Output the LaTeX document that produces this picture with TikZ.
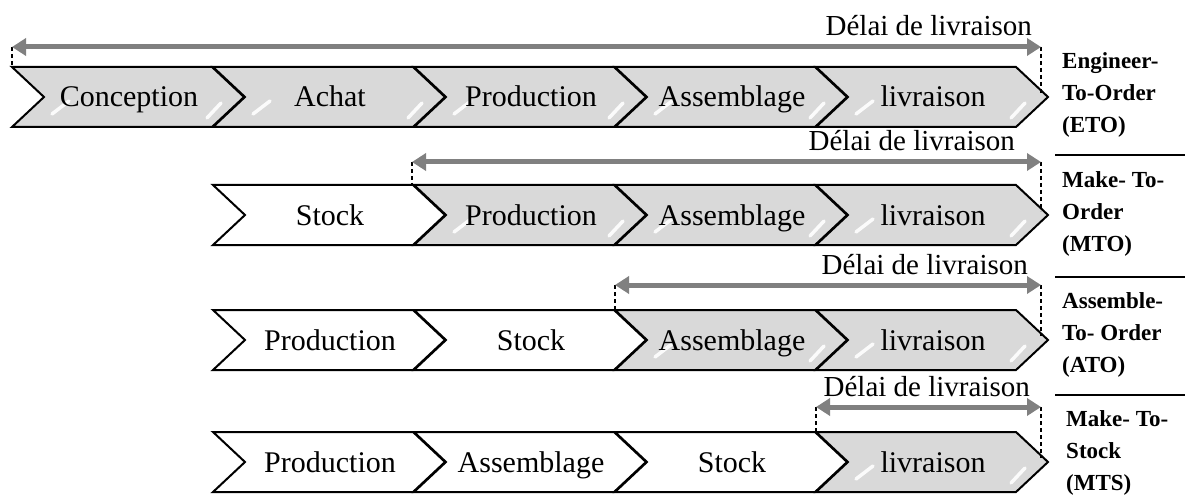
\documentclass[tikz,border=0pt]{standalone}
\usepackage{fontspec}
\setmainfont{Liberation Serif}
\usetikzlibrary{arrows.meta}
\definecolor{chevgris}{RGB}{217,217,217}
\definecolor{flechegris}{RGB}{128,128,128}
\tikzset{
  etape/.style={draw=black, line width=2pt, line join=miter},
  texte/.style={font=\fontsize{30}{32}\selectfont, anchor=base, inner sep=0pt},
  delai/.style={font=\fontsize{29}{31}\selectfont, anchor=base east, inner sep=0pt},
  fleche/.style={draw=flechegris, line width=5pt, <->, >={Triangle[length=14pt,width=17pt]}},
  pointille/.style={dash pattern=on 4pt off 3pt, line width=1.5pt},
  modele/.style={font=\fontsize{23}{32}\selectfont\bfseries, align=left, anchor=west, inner sep=0pt},
  reflet/.style={white, line width=3.5pt, line cap=round, opacity=0.9},
  separation/.style={line width=1.2pt}
}
% #1 nom, #2 x, #3 y haut, #4 couleur, #5 texte
\newcommand{\etape}[5]{%
  \draw[etape, fill=#4] (#2,#3) -- ++(200,0) -- ++(32,30) -- ++(-32,30) -- ++(-200,0) -- ++(32,-30) -- cycle;
  \draw[reflet] (#2+40,#3+47) -- (#2+57,#3+34);
  \draw[reflet] (#2+195,#3+51) -- (#2+209,#3+36);
  \node[texte] (#1) at (#2+117,#3+40) {#5};
}
\begin{document}
\begin{tikzpicture}[x=1pt,y=-1pt]
  \useasboundingbox (0,0) rectangle (1185,497);
  % ETO
  \foreach \c/\t in {0/Conception,1/Achat,2/Production,3/Assemblage,4/livraison}
    {\etape{eto\c}{12+201*\c}{67}{chevgris}{\t}}
  % MTO
  \foreach \c/\t/\s in {1/Stock/white,2/Production/chevgris,3/Assemblage/chevgris,4/livraison/chevgris}
    {\etape{mto\c}{12+201*\c}{185}{\s}{\t}}
  % ATO
  \foreach \c/\t/\s in {1/Production/white,2/Stock/white,3/Assemblage/chevgris,4/livraison/chevgris}
    {\etape{ato\c}{12+201*\c}{310}{\s}{\t}}
  % MTS
  \foreach \c/\t/\s in {1/Production/white,2/Assemblage/white,3/Stock/white,4/livraison/chevgris}
    {\etape{mts\c}{12+201*\c}{432}{\s}{\t}}

  % delais
  \coordinate (a1l) at (12,47);  \coordinate (a1r) at (1041,47);
  \coordinate (a2l) at (412,162); \coordinate (a2r) at (1041,162);
  \coordinate (a3l) at (615,285); \coordinate (a3r) at (1041,285);
  \coordinate (a4l) at (816,407); \coordinate (a4r) at (1041,407);
  \draw[pointille] (a1l) -- ++(0,20);  \draw[pointille] (a1r) -- ++(0,46);
  \draw[pointille] (a2l) -- ++(0,23);  \draw[pointille] (a2r) -- ++(0,49);
  \draw[pointille] (a3l) -- ++(0,25);  \draw[pointille] (a3r) -- ++(0,51);
  \draw[pointille] (a4l) -- ++(0,25);  \draw[pointille] (a4r) -- ++(0,51);
  \draw[fleche] (a1l) -- (a1r);
  \draw[fleche] (a2l) -- (a2r);
  \draw[fleche] (a3l) -- (a3r);
  \draw[fleche] (a4l) -- (a4r);
  \node[delai] (d1) at (1032,36) {Délai de livraison};
  \node[delai] (d2) at (1015,151) {Délai de livraison};
  \node[delai] (d3) at (1028,274) {Délai de livraison};
  \node[delai] (d4) at (1030,396) {Délai de livraison};

  % strategies
  \node[modele] (eto) at (1062,95) {Engineer-\\To-Order\\(ETO)};
  \node[modele] (mto) at (1062,214) {Make- To-\\Order\\(MTO)};
  \node[modele] (ato) at (1062,335) {Assemble-\\To- Order\\(ATO)};
  \node[modele] (mts) at (1066,453) {Make- To-\\Stock\\(MTS)};
  \draw[separation] (1055,155) -- (1185,155);
  \draw[separation] (1055,277) -- (1185,277);
  \draw[separation] (1055,395) -- (1185,395);
\end{tikzpicture}
\end{document}
